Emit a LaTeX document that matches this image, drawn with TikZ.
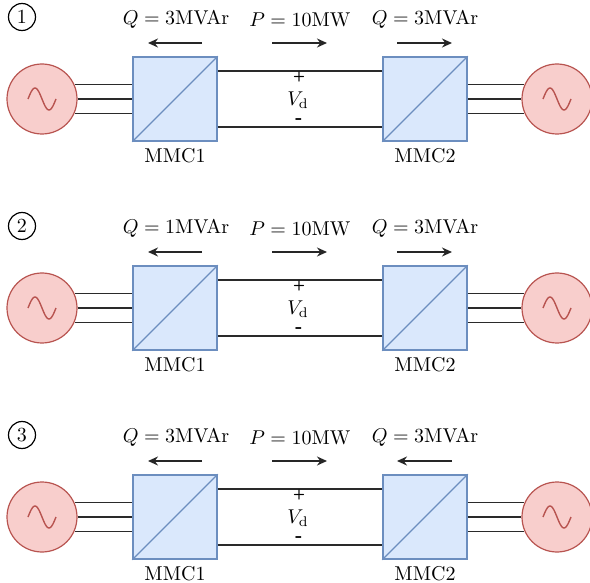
\documentclass[tikz,border=0pt]{standalone}
\usetikzlibrary{arrows.meta}
\definecolor{boxfill}{HTML}{DAE8FC}
\definecolor{boxline}{HTML}{6C8EBF}
\definecolor{genfill}{HTML}{F8CECC}
\definecolor{genline}{HTML}{B85450}
\definecolor{wire}{HTML}{2A2A2A}
\tikzset{
 conv/.style={draw=boxline, fill=boxfill, line width=0.8pt, minimum size=42pt, inner sep=0pt},
 diag/.style={draw=boxline, line width=0.6pt},
 gen/.style={circle, draw=genline, fill=genfill, line width=0.6pt, minimum size=35pt, inner sep=0pt},
 sine/.style={draw=genline, line width=0.7pt},
 wireline/.style={draw=wire, line width=0.75pt},
 flow/.style={draw=black!85, line width=0.75pt, -{Stealth[length=5pt,width=4.5pt]}},
 num/.style={circle, draw, line width=0.6pt, minimum size=13.5pt, inner sep=0pt},
 pm/.style={inner sep=0pt, font=\scriptsize\bfseries\sffamily},
 mm/.style={inner sep=0pt, font=\small\bfseries},
}
\begin{document}
\begin{tikzpicture}[x=0.5pt,y=-0.5pt]
\useasboundingbox (0,0) rectangle (590,583);
\foreach \i/\oy/\qa/\qb/\bs/\be in {1/0/3/3/397/452, 2/209/1/3/397/452, 3/418/3/3/452/397}{
\begin{scope}[shift={(0,\oy)}]
 \node[num] (n\i) at (22,17) {\i};
 \node[gen] (gl\i) at (42,99) {};
 \node[gen] (gr\i) at (557,99) {};
 \node[conv] (ma\i) at (175,99) {};
 \node[conv] (mb\i) at (425,99) {};
 \draw[diag] (ma\i.south west) -- (ma\i.north east);
 \draw[diag] (mb\i.south west) -- (mb\i.north east);
 \draw[sine] plot[domain=-14:14, samples=40] ({42+\x}, {99+11*sin(\x*180/14)});
 \draw[sine] plot[domain=-14:14, samples=40] ({557+\x}, {99+11*sin(\x*180/14)});
 % three-phase lines
 \draw[wireline] (gl\i.24) -- (gl\i.24 -| ma\i.west);
 \draw[wireline] (gl\i.east) -- (ma\i.west);
 \draw[wireline] (gl\i.-24) -- (gl\i.-24 -| ma\i.west);
 \draw[wireline] (mb\i.east |- gr\i.156) -- (gr\i.156);
 \draw[wireline] (mb\i.east) -- (gr\i.west);
 \draw[wireline] (mb\i.east |- gr\i.204) -- (gr\i.204);
 % dc lines
 \draw[wireline] ([yshift=14pt]ma\i.east) -- ([yshift=14pt]mb\i.west);
 \draw[wireline] ([yshift=-14pt]ma\i.east) -- ([yshift=-14pt]mb\i.west);
 \node[pm] (pl\i) at (299,77) {+};
 \node (vd\i) at (298,100) {$V_\mathrm{d}$};
 \node[mm] (mi\i) at (299,121) {-};
 % labels
 \node[anchor=north, inner sep=3.3pt] (la\i) at (ma\i.south) {MMC1};
 \node[anchor=north, inner sep=3.3pt] (lb\i) at (mb\i.south) {MMC2};
 \node (qt\i) at (176,20) {$Q = \qa\mathrm{MVAr}$};
 \node (pt\i) at (300,20) {$P = 10\mathrm{MW}$};
 \node (rt\i) at (425,20) {$Q = \qb\mathrm{MVAr}$};
 \coordinate (qas\i) at (202,43);
 \coordinate (qae\i) at (148,43);
 \coordinate (ps\i) at (272,43);
 \coordinate (pe\i) at (327,43);
 \coordinate (qbs\i) at (\bs,43);
 \coordinate (qbe\i) at (\be,43);
 \draw[flow] (qas\i) -- (qae\i);
 \draw[flow] (ps\i) -- (pe\i);
 \draw[flow] (qbs\i) -- (qbe\i);
\end{scope}
}
\end{tikzpicture}
\end{document}
